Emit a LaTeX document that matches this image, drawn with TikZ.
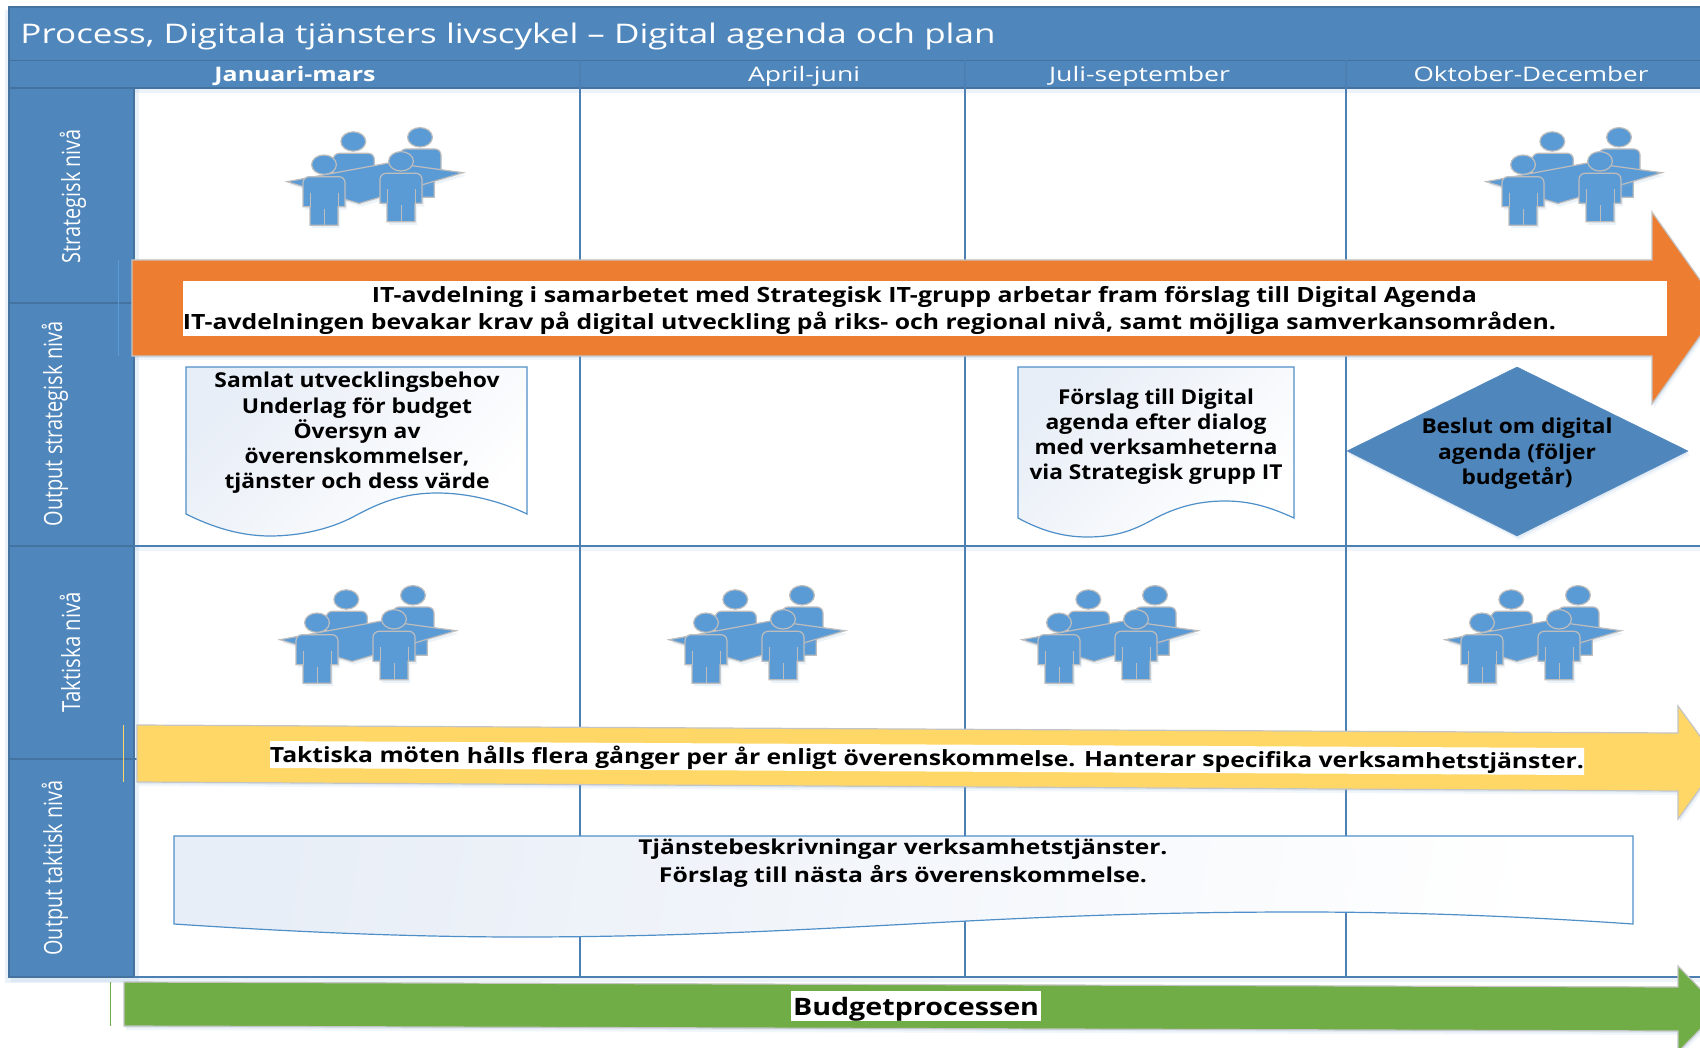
\documentclass[tikz,border=0pt]{standalone}
\usepackage{fontspec}
\usepackage{graphicx}
\setmainfont{Open Sans}
\usetikzlibrary{shadows}
\definecolor{band}{HTML}{4F86BB}
\definecolor{bandline}{HTML}{44739F}
\definecolor{gridline}{HTML}{4C80B2}
\definecolor{people}{HTML}{5B9BD5}
\definecolor{peopleedge}{HTML}{BDBDBD}
\definecolor{orangearrow}{HTML}{ED7D31}
\definecolor{yellowarrow}{HTML}{FFD766}
\definecolor{greenarrow}{HTML}{70AD47}
\definecolor{arrowedge}{HTML}{C4C4C4}
\definecolor{docedge}{HTML}{4F8FC8}
\definecolor{docfill}{HTML}{E8EEF7}
\definecolor{softblue}{HTML}{7FA8D6}
\newcommand{\fw}[2]{\resizebox{#1pt}{\height}{#2}}
\tikzset{
  softsh/.style={drop shadow={shadow xshift=1pt,shadow yshift=-2pt,opacity=.14,fill=softblue},
                 drop shadow={shadow xshift=2pt,shadow yshift=-4pt,opacity=.10,fill=softblue}},
  bandbox/.style={fill=band,draw=bandline,line width=1.2pt},
  gridrule/.style={draw=gridline,line width=1.5pt},
  bigarrow/.style={draw=arrowedge,line width=1.2pt,softsh},
  docshape/.style={draw=docedge,line width=1.2pt,left color=docfill,right color=white,shading angle=45},
  txt/.style={anchor=base,inner sep=0pt,font=\fontsize{20.5}{24}\selectfont\bfseries,text=black},
  hdr/.style={anchor=base,inner sep=0pt,font=\fontsize{20}{24}\selectfont,text=white},
  side/.style={anchor=base,inner sep=0pt,rotate=90,font=\fontsize{25}{28}\selectfont,text=white},
  pfig/.style={fill=people,draw=peopleedge,line width=1.2pt},
  pline/.style={draw=peopleedge,line width=1pt},
  pshadow/.style={drop shadow={shadow xshift=2pt,shadow yshift=-3pt,opacity=.15,fill=softblue}}
}
% front person: #1,#2 = centre x and shoulder y
\newcommand{\frontperson}[2]{%
  \begin{scope}[shift={(#1,#2)}]
    \draw[pfig,pshadow]
      (-21,30) -- (-14,30) -- (-14,48.5) -- (14,48.5) -- (14,30) -- (21,30)
      [rounded corners=6pt] -- (21,0) -- (-21,0) [sharp corners] -- cycle;
    \draw[pline] (-14,16) -- (-14,30) (14,16) -- (14,30) (0,32) -- (0,48.5);
    \draw[pfig] (0,-12) ellipse [x radius=12.4pt,y radius=9.7pt];
  \end{scope}}
\newcommand{\peopleicon}[2]{%
  \begin{scope}[shift={(#1,#2)}]
    % back persons
    \draw[pfig,rounded corners=6pt] (46.3,50) -- (46.3,25.3) -- (87.3,25.3) -- (87.3,50) -- cycle;
    \draw[pfig] (66.3,13.5) ellipse [x radius=12.4pt,y radius=9.7pt];
    \draw[pfig] (113,50) [rounded corners=6pt] -- (113,21) -- (154,21) [sharp corners] -- (154,50) -- (147.3,50) -- (147.3,69.3) -- (116,69.3) -- (116,50) -- cycle;
    \draw[pfig] (133,9.3) ellipse [x radius=12.4pt,y radius=9.7pt];
    % table
    \draw[pfig,pshadow] (0,53.7) -- (103,34.7) -- (176,44.7) -- (72,75.5) -- cycle;
    % front persons
    \frontperson{37}{48.7}
    \frontperson{114}{45.3}
  \end{scope}}
\begin{document}
\begin{tikzpicture}[x=1pt,y=-1pt]
\useasboundingbox (0,0) rectangle (1700,1048);
\clip (0,0) rectangle (1700,1048);
\fill[white] (0,0) rectangle (1700,1048);

% soft shadows under the frame
\fill[softblue,opacity=.16] (5,10) rectangle (139,983);
\fill[softblue,opacity=.14] (134,88) rectangle (1700,93);
\fill[softblue,opacity=.12] (134,546) rectangle (1700,551);
\fill[softblue,opacity=.12] (11,977) rectangle (1700,982);
% grid and bands
\draw[bandbox] (9,7) rectangle (1712,60.5);
\draw[bandbox] (9,60.5) rectangle (1712,88);
\draw[bandbox] (9,88) rectangle (134,977);
\draw[draw=bandline,line width=1.2pt] (9,303) -- (132,303);
\draw[gridrule] (134,546) -- (1712,546);
\draw[draw=bandline,line width=1.2pt] (9,546) -- (134,546);
\draw[draw=bandline,line width=1.2pt] (9,759) -- (137,759);
\draw[gridrule] (134,977) -- (1712,977);
\draw[gridrule] (580,60.5) -- (580,977);
\draw[gridrule] (965,60.5) -- (965,977);
\draw[gridrule] (1346,60.5) -- (1346,977);

% header texts
\node[anchor=base,inner sep=0pt,font=\fontsize{27}{30}\selectfont,text=white] (title) at (508,43.7)
  {\fw{975}{Process, Digitala tjänsters livscykel – Digital agenda och plan}};
\node[hdr,font=\fontsize{20}{24}\selectfont\bfseries] (m1) at (295,82) {\fw{161}{Januari-mars}};
\node[hdr] (m2) at (804,82) {\fw{112}{April-juni}};
\node[hdr] (m3) at (1139.5,82) {\fw{181}{Juli-september}};
\node[hdr] (m4) at (1531,82) {\fw{235}{Oktober-December}};

% side labels
\node[side] (s1) at (80,196) {\fw{134}{Strategisk nivå}};
\node[side] (s2) at (62,424) {\fw{205}{Output strategisk nivå}};
\node[side] (s3) at (80,652) {\fw{120}{Taktiska nivå}};
\node[side] (s4) at (62,868) {\fw{175}{Output taktisk nivå}};

% people
\peopleicon{287}{128}
\peopleicon{1486}{128}
\peopleicon{280}{586}
\peopleicon{669}{586}
\peopleicon{1022}{586}
\peopleicon{1445}{586}

% documents
\draw[docshape] (186,367) -- (527,367) -- (527,514)
  .. controls (500,501) and (468,493) .. (437,493)
  .. controls (400,493) and (375,505) .. (353,517)
  .. controls (330,529) and (300,536) .. (270,536)
  .. controls (240,536) and (212,527) .. (186,514) -- cycle;
\draw[docshape] (1018,367) -- (1294,367) -- (1294,518)
  .. controls (1270,507) and (1250,501) .. (1225,501)
  .. controls (1195,501) and (1172,509) .. (1152,520)
  .. controls (1132,531) and (1115,537) .. (1087,537)
  .. controls (1062,537) and (1040,530) .. (1018,518) -- cycle;
\draw[docshape,left color=docfill,middle color=docfill!12!white,right color=white,shading angle=80]
  (174,836) -- (1633,836) -- (1633,924)
  .. controls (1530,917) and (1420,912) .. (1300,912)
  .. controls (1150,912) and (1040,917) .. (910,924)
  .. controls (780,931) and (660,937) .. (520,937)
  .. controls (400,937) and (280,931) .. (174,924) -- cycle;
\draw[fill=band,draw=band,softsh] (1347,451) -- (1517,367) -- (1688,451) -- (1517,536) -- cycle;

\node[txt] (d1a) at (357,388) {\fw{285}{Samlat utvecklingsbehov}};
\node[txt] (d1b) at (357,413) {\fw{230}{Underlag för budget}};
\node[txt] (d1c) at (357,438) {\fw{127}{Översyn av}};
\node[txt] (d1d) at (357,463) {\fw{225}{överenskommelser,}};
\node[txt] (d1e) at (357,488) {\fw{265}{tjänster och dess värde}};

\node[txt] (d2a) at (1156,405) {\fw{196}{Förslag till Digital}};
\node[txt] (d2b) at (1156,429.5) {\fw{221}{agenda efter dialog}};
\node[txt] (d2c) at (1156,454) {\fw{243}{med verksamheterna}};
\node[txt] (d2d) at (1156,479) {\fw{253}{via Strategisk grupp IT}};

\node[txt] (b1) at (1517,433) {\fw{191}{Beslut om digital}};
\node[txt] (b2) at (1517,459) {\fw{158}{agenda (följer}};
\node[txt] (b3) at (1517,484) {\fw{111}{budgetår)}};

\node[txt] (d3a) at (903,854) {\fw{529}{Tjänstebeskrivningar verksamhetstjänster.}};
\node[txt] (d3b) at (903,882) {\fw{488}{Förslag till nästa års överenskommelse.}};

% thin lines beside arrows
\draw[draw=people,line width=1pt] (118,260) -- (118,356);
\draw[draw=yellowarrow,line width=1pt] (123,725) -- (123,782);
\draw[draw=greenarrow,line width=1pt] (110,982) -- (110,1026);

% arrows
\draw[bigarrow,fill=orangearrow] (132,260) -- (1652,260) -- (1652,212) -- (1720,308) -- (1652,404) -- (1652,356) -- (132,356) -- cycle;
\fill[white] (183,281) rectangle (1667,336);
\node[txt,font=\fontsize{21}{24}\selectfont\bfseries] (o1) at (924.5,303) {\fw{1105}{IT-avdelning i samarbetet med Strategisk IT-grupp arbetar fram förslag till Digital Agenda}};
\node[txt,font=\fontsize{21}{24}\selectfont\bfseries] (o2) at (869.5,330) {\fw{1373}{IT-avdelningen bevakar krav på digital utveckling på riks- och regional nivå, samt möjliga samverkansområden.}};

\draw[bigarrow,fill=yellowarrow] (137,725) -- (1678,733) -- (1678,706) -- (1719,762) -- (1678,819) -- (1678,791) -- (137,782) -- cycle;
\fill[white] (270,741) -- (1584,748) -- (1584,775) -- (270,768) -- cycle;
\node[txt,font=\fontsize{21}{24}\selectfont\bfseries,rotate=-0.3] (y1) at (927,765.5) {\fw{1314}{Taktiska möten hålls flera gånger per år enligt överenskommelse. Hanterar specifika verksamhetstjänster.}};

\draw[bigarrow,fill=greenarrow] (124,982) -- (1678,987) -- (1678,966) -- (1720,1009) -- (1678,1052) -- (1678,1031) -- (124,1026) -- cycle;
\fill[white] (791,991) rectangle (1041,1021);
\node[txt,font=\fontsize{24}{28}\selectfont\bfseries] (g1) at (916,1015.5) {\fw{246}{Budgetprocessen}};
\end{tikzpicture}
\end{document}
